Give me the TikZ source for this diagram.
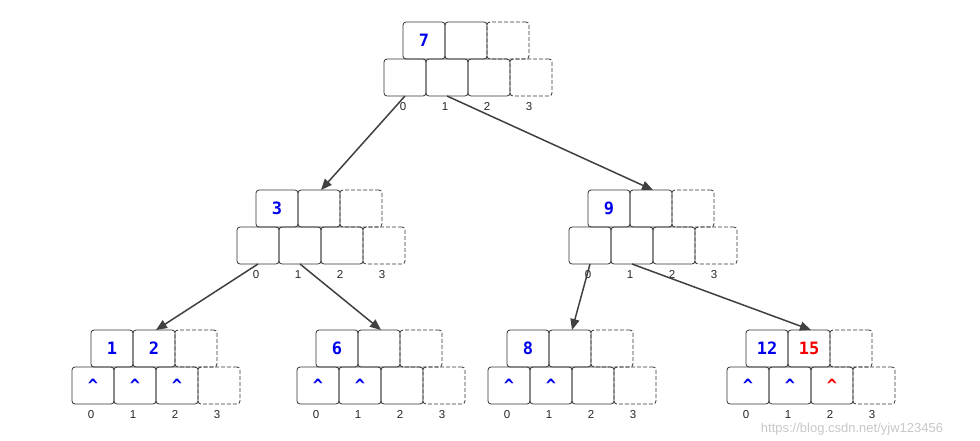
\documentclass[tikz,border=0pt]{standalone}
\usepackage{fontspec}
\setmainfont{Liberation Sans}
\newfontfamily\keyfont{DejaVu Sans Mono}
\usetikzlibrary{positioning}
\usetikzlibrary{arrows.meta}

\definecolor{keyblue}{RGB}{0,0,235}
\definecolor{keyred}{RGB}{245,0,0}

% one B-tree node: name, top left of pointer row, key1, key2, ptr0, ptr1, ptr2
\newcommand{\bnode}[7]{%
  \node[cell, anchor=north west] (#1-p0) at (#2) {#5};
  \node[cell] (#1-p1) [right=0pt of #1-p0] {#6};
  \node[cell] (#1-p2) [right=0pt of #1-p1] {#7};
  \node[cell, spare] (#1-p3) [right=0pt of #1-p2] {};
  \node[cell] (#1-k1) [above right=0pt and -23pt of #1-p0] {#3};
  \node[cell] (#1-k2) [right=0pt of #1-k1] {#4};
  \node[cell, spare] (#1-k3) [right=0pt of #1-k2] {};
  \node[idx] (#1-i0) [below=5pt of #1-p0] {0};
  \node[idx] (#1-i1) [below=5pt of #1-p1] {1};
  \node[idx] (#1-i2) [below=5pt of #1-p2] {2};
  \node[idx] (#1-i3) [below=5pt of #1-p3] {3};
  \coordinate (#1) at (#1-p1.east |- #1-k1.north);
}

\begin{document}
\begin{tikzpicture}[x=1pt, y=-1pt,
    cell/.style={rectangle, rounded corners=3pt, draw=black!80, line width=0.8pt,
      minimum width=42pt, minimum height=37pt, inner sep=0pt, outer sep=0pt,
      text=keyblue, font=\keyfont\bfseries\fontsize{17}{17}\selectfont},
    spare/.style={dash pattern=on 4pt off 2pt},
    idx/.style={inner sep=1pt, xshift=-2pt, text=black!85, font=\fontsize{11.5}{11.5}\selectfont},
    edge/.style={draw=black!75, line width=1.5pt, -{Triangle[length=11pt,width=9pt]}}]
  \useasboundingbox (0,0) rectangle (980,440);

  \bnode{root}{384,59}{7}{}{}{}{}
  \bnode{left}{237,227}{3}{}{}{}{}
  \bnode{right}{569,227}{9}{}{}{}{}
  \bnode{leafa}{72,367}{1}{2}{\^{}}{\^{}}{\^{}}
  \bnode{leafb}{297,367}{6}{}{\^{}}{\^{}}{}
  \bnode{leafc}{488,367}{8}{}{\^{}}{\^{}}{}
  \bnode{leafd}{727,367}{12}{\textcolor{keyred}{15}}{\^{}}{\^{}}{\textcolor{keyred}{\^{}}}

  \draw[edge] (root-p0.south) -- (left);
  \draw[edge] (root-p1.south) -- (right);
  \draw[edge] (left-p0.south) -- (leafa);
  \draw[edge] (left-p1.south) -- (leafb);
  \draw[edge] (right-p0.south) -- (leafc);
  \draw[edge] (right-p1.south) -- (leafd);

  \node[text=black!22, font=\fontsize{13}{13}\selectfont] (mark) at (852,429) {https://blog.csdn.net/yjw123456};
\end{tikzpicture}
\end{document}
